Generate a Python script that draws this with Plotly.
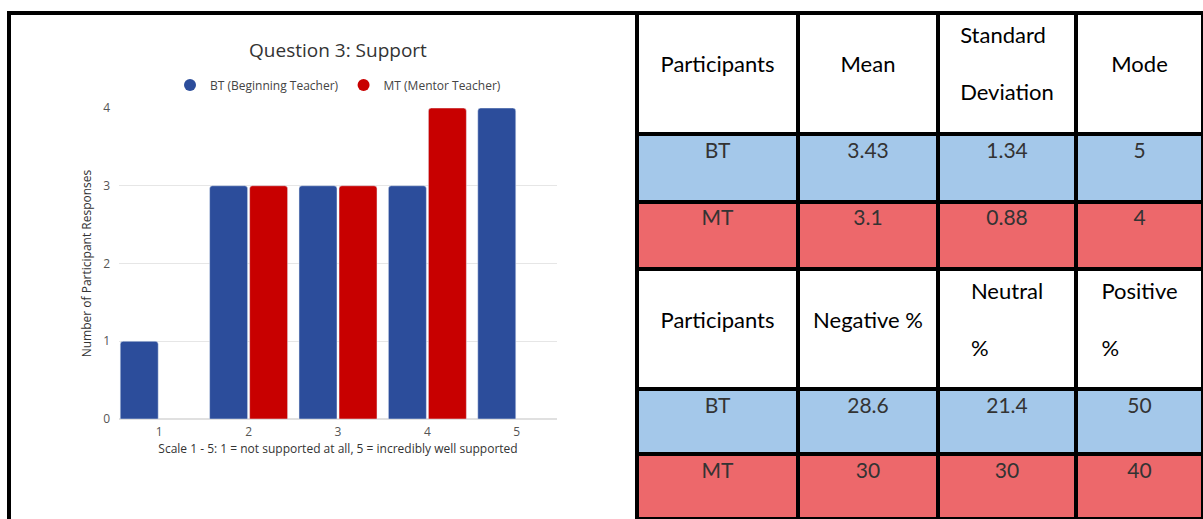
import plotly.graph_objects as go

# ---------------- data ----------------
scale_points = [1, 2, 3, 4, 5]
bt_counts = [1, 3, 3, 3, 4]
mt_counts = [None, 3, 3, 4, None]
series_names = ["BT (Beginning Teacher)", "MT (Mentor Teacher)"]

NB = "\u00a0"
table1_header = [NB + "<br>Participants", NB + "<br>Mean", "Standard<br><br>Deviation", NB + "<br>Mode"]
table1_rows = [["BT", "3.43", "1.34", "5"],
               ["MT", "3.1", "0.88", "4"]]
table2_header = [NB + "<br>Participants", NB + "<br>Negative %", "Neutral<br><br>%", "Positive<br><br>%"]
table2_rows = [["BT", "28.6", "21.4", "50"],
               ["MT", "30", "30", "40"]]

# ---------------- style ----------------
W, H = 1203, 519
BLUE = "#2C4D9B"
RED = "#C80000"
ROW_BLUE = "#A4C8EA"
ROW_RED = "#ED686B"
FONT = "Open Sans"
TFONT = "Lato"

def px_x(x):
    return x / W

def px_y(y):
    return 1 - y / H

fig = go.Figure()

fig.add_trace(go.Bar(x=scale_points, y=bt_counts, name=series_names[0],
                     marker=dict(color=BLUE), showlegend=False))
fig.add_trace(go.Bar(x=scale_points, y=mt_counts, name=series_names[1],
                     marker=dict(color=RED), showlegend=False))
# legend entries with circular symbols
fig.add_trace(go.Scatter(x=[None], y=[None], mode="markers", name=series_names[0],
                         marker=dict(color=BLUE, size=12, symbol="circle")))
fig.add_trace(go.Scatter(x=[None], y=[None], mode="markers", name=series_names[1],
                         marker=dict(color=RED, size=12, symbol="circle")))

col_w = [161, 140, 138, 127]

def cell_colors(rows):
    return [[ROW_BLUE, ROW_RED] for _ in rows[0]]

def make_table(header, rows, y0, y1, hh, ch):
    cols = [list(c) for c in zip(*rows)]
    return go.Table(
        domain=dict(x=[px_x(637), 1.0], y=[px_y(y1), px_y(y0)]),
        columnwidth=col_w,
        header=dict(values=header, height=hh, align="center",
                    fill=dict(color="white"),
                    line=dict(color="black", width=4),
                    font=dict(family=TFONT, size=22, color="#000000")),
        cells=dict(values=cols, height=ch, align="center",
                   fill=dict(color=cell_colors(rows)),
                   line=dict(color="black", width=4),
                   font=dict(family=TFONT, size=21, color="#333333")),
    )

fig.add_trace(make_table(table1_header, table1_rows, 13, 270, 121, 67.5))
fig.add_trace(make_table(table2_header, table2_rows, 269, 519, 120, 64.9))

fig.update_layout(
    width=W, height=H,
    margin=dict(l=0, r=0, t=0, b=0, autoexpand=False),
    paper_bgcolor="white", plot_bgcolor="white",
    barmode="group", bargap=0.105, bargroupgap=0.05, barcornerradius=3,
    title=dict(text="Question 3: Support", x=px_x(338), y=px_y(50),
               xanchor="center", yanchor="middle",
               font=dict(family=FONT, size=19, color="#333333")),
    legend=dict(orientation="h", x=px_x(338), y=px_y(85), xanchor="center",
                yanchor="middle", font=dict(family=FONT, size=12, color="#444444"),
                itemwidth=30),
    xaxis=dict(domain=[px_x(119), px_x(557)], range=[0.55, 5.45],
               tickmode="array", tickvals=scale_points,
               showgrid=False, zeroline=False, showline=False,
               ticklabelstandoff=4,
               tickfont=dict(family=FONT, size=12, color="#555555"),
               title=dict(text="Scale 1 - 5: 1 = not supported at all, 5 = incredibly well supported",
                          font=dict(family=FONT, size=12, color="#333333"), standoff=4)),
    yaxis=dict(domain=[px_y(419), px_y(108)], range=[0, 4],
               tickmode="array", tickvals=[0, 1, 2, 3, 4],
               showgrid=True, gridcolor="#E6E6E6", gridwidth=1,
               zeroline=True, zerolinecolor="#E0E0E0", showline=False,
               ticklabelstandoff=8,
               tickfont=dict(family=FONT, size=12, color="#555555"),
               title=dict(text="Number of Participant Responses",
                          font=dict(family=FONT, size=12, color="#333333"), standoff=8)),
    shapes=[
        dict(type="line", xref="paper", yref="paper", x0=px_x(7), x1=1.0,
             y0=px_y(13), y1=px_y(13), line=dict(color="black", width=4)),
        dict(type="line", xref="paper", yref="paper", x0=px_x(9), x1=px_x(9),
             y0=px_y(11), y1=0, line=dict(color="black", width=4)),
    ],
)

fig.write_html("out.html")
